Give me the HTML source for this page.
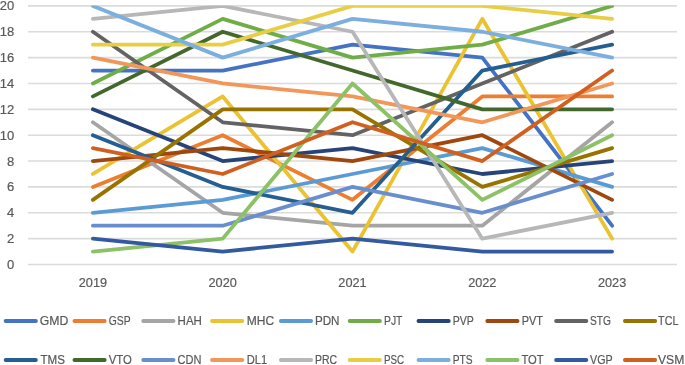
<!DOCTYPE html>
<html><head><meta charset="utf-8"><style>
html,body{margin:0;padding:0;background:#fff;width:685px;height:365px;overflow:hidden}
svg{display:block}
text{font-family:"Liberation Sans",sans-serif;fill:#595959;stroke:#595959;stroke-width:0.2px}
svg{will-change:transform}
</style></head><body>
<svg width="685" height="365" viewBox="0 0 685 365">
<defs><clipPath id="pa"><rect x="0" y="5.4" width="685" height="265"/></clipPath></defs>
<rect width="685" height="365" fill="#fff"/>
<g stroke="#DADCDA" stroke-width="1.6">
<line x1="28.0" y1="264.50" x2="677.0" y2="264.50"/>
<line x1="28.0" y1="238.64" x2="677.0" y2="238.64"/>
<line x1="28.0" y1="212.78" x2="677.0" y2="212.78"/>
<line x1="28.0" y1="186.92" x2="677.0" y2="186.92"/>
<line x1="28.0" y1="161.06" x2="677.0" y2="161.06"/>
<line x1="28.0" y1="135.20" x2="677.0" y2="135.20"/>
<line x1="28.0" y1="109.34" x2="677.0" y2="109.34"/>
<line x1="28.0" y1="83.48" x2="677.0" y2="83.48"/>
<line x1="28.0" y1="57.62" x2="677.0" y2="57.62"/>
<line x1="28.0" y1="31.76" x2="677.0" y2="31.76"/>
<line x1="28.0" y1="5.90" x2="677.0" y2="5.90"/>
</g>
<g class="t">
<text x="14.2" y="269.00" font-size="13.0" text-anchor="end">0</text>
<text x="14.2" y="243.14" font-size="13.0" text-anchor="end">2</text>
<text x="14.2" y="217.28" font-size="13.0" text-anchor="end">4</text>
<text x="14.2" y="191.42" font-size="13.0" text-anchor="end">6</text>
<text x="14.2" y="165.56" font-size="13.0" text-anchor="end">8</text>
<text x="14.2" y="139.70" font-size="13.0" text-anchor="end">10</text>
<text x="14.2" y="113.84" font-size="13.0" text-anchor="end">12</text>
<text x="14.2" y="87.98" font-size="13.0" text-anchor="end">14</text>
<text x="14.2" y="62.12" font-size="13.0" text-anchor="end">16</text>
<text x="14.2" y="36.26" font-size="13.0" text-anchor="end">18</text>
<text x="14.2" y="10.40" font-size="13.0" text-anchor="end">20</text>
<text x="92.90" y="287.2" font-size="13.0" text-anchor="middle" textLength="28.3" lengthAdjust="spacingAndGlyphs">2019</text>
<text x="222.70" y="287.2" font-size="13.0" text-anchor="middle" textLength="28.3" lengthAdjust="spacingAndGlyphs">2020</text>
<text x="352.50" y="287.2" font-size="13.0" text-anchor="middle" textLength="28.3" lengthAdjust="spacingAndGlyphs">2021</text>
<text x="482.30" y="287.2" font-size="13.0" text-anchor="middle" textLength="28.3" lengthAdjust="spacingAndGlyphs">2022</text>
<text x="612.10" y="287.2" font-size="13.0" text-anchor="middle" textLength="28.3" lengthAdjust="spacingAndGlyphs">2023</text>
</g>
<g clip-path="url(#pa)" fill="none" stroke-width="3.8" stroke-linecap="round" stroke-linejoin="round">
<polyline points="92.90,70.55 222.70,70.55 352.50,44.69 482.30,57.62 612.10,225.71" stroke="#4472C4"/>
<polyline points="92.90,186.92 222.70,135.20 352.50,199.85 482.30,96.41 612.10,96.41" stroke="#ED7D31"/>
<polyline points="92.90,122.27 222.70,212.78 352.50,225.71 482.30,225.71 612.10,122.27" stroke="#A5A5A5"/>
<polyline points="92.90,173.99 222.70,96.41 352.50,251.57 482.30,18.83 612.10,238.64" stroke="#EBC232"/>
<polyline points="92.90,212.78 222.70,199.85 352.50,173.99 482.30,148.13 612.10,186.92" stroke="#5B9BD5"/>
<polyline points="92.90,83.48 222.70,18.83 352.50,57.62 482.30,44.69 612.10,5.90" stroke="#70AD47"/>
<polyline points="92.90,109.34 222.70,161.06 352.50,148.13 482.30,173.99 612.10,161.06" stroke="#264478"/>
<polyline points="92.90,161.06 222.70,148.13 352.50,161.06 482.30,135.20 612.10,199.85" stroke="#9E480E"/>
<polyline points="92.90,31.76 222.70,122.27 352.50,135.20 482.30,83.48 612.10,31.76" stroke="#636363"/>
<polyline points="92.90,199.85 222.70,109.34 352.50,109.34 482.30,186.92 612.10,148.13" stroke="#997300"/>
<polyline points="92.90,135.20 222.70,186.92 352.50,212.78 482.30,70.55 612.10,44.69" stroke="#255E91"/>
<polyline points="92.90,96.41 222.70,31.76 352.50,70.55 482.30,109.34 612.10,109.34" stroke="#43682B"/>
<polyline points="92.90,225.71 222.70,225.71 352.50,186.92 482.30,212.78 612.10,173.99" stroke="#698ED0"/>
<polyline points="92.90,57.62 222.70,83.48 352.50,96.41 482.30,122.27 612.10,83.48" stroke="#F1975A"/>
<polyline points="92.90,18.83 222.70,5.90 352.50,31.76 482.30,238.64 612.10,212.78" stroke="#B7B7B7"/>
<polyline points="92.90,44.69 222.70,44.69 352.50,5.90 482.30,5.90 612.10,18.83" stroke="#E8CE44"/>
<polyline points="92.90,5.90 222.70,57.62 352.50,18.83 482.30,31.76 612.10,57.62" stroke="#7CAFDD"/>
<polyline points="92.90,251.57 222.70,238.64 352.50,83.48 482.30,199.85 612.10,135.20" stroke="#8CC168"/>
<polyline points="92.90,238.64 222.70,251.57 352.50,238.64 482.30,251.57 612.10,251.57" stroke="#335AA1"/>
<polyline points="92.90,148.13 222.70,173.99 352.50,122.27 482.30,161.06 612.10,70.55" stroke="#D06020"/>
</g>
<g stroke-width="3.8" stroke-linecap="round">
<line x1="5.60" y1="321.0" x2="35.90" y2="321.0" stroke="#4472C4"/>
<line x1="74.41" y1="321.0" x2="104.71" y2="321.0" stroke="#ED7D31"/>
<line x1="143.22" y1="321.0" x2="173.52" y2="321.0" stroke="#A5A5A5"/>
<line x1="212.03" y1="321.0" x2="242.33" y2="321.0" stroke="#EBC232"/>
<line x1="280.84" y1="321.0" x2="311.14" y2="321.0" stroke="#5B9BD5"/>
<line x1="349.65" y1="321.0" x2="379.95" y2="321.0" stroke="#70AD47"/>
<line x1="418.46" y1="321.0" x2="448.76" y2="321.0" stroke="#264478"/>
<line x1="487.27" y1="321.0" x2="517.57" y2="321.0" stroke="#9E480E"/>
<line x1="556.08" y1="321.0" x2="586.38" y2="321.0" stroke="#636363"/>
<line x1="624.89" y1="321.0" x2="655.19" y2="321.0" stroke="#997300"/>
<line x1="5.60" y1="360.0" x2="35.90" y2="360.0" stroke="#255E91"/>
<line x1="74.41" y1="360.0" x2="104.71" y2="360.0" stroke="#43682B"/>
<line x1="143.22" y1="360.0" x2="173.52" y2="360.0" stroke="#698ED0"/>
<line x1="212.03" y1="360.0" x2="242.33" y2="360.0" stroke="#F1975A"/>
<line x1="280.84" y1="360.0" x2="311.14" y2="360.0" stroke="#B7B7B7"/>
<line x1="349.65" y1="360.0" x2="379.95" y2="360.0" stroke="#E8CE44"/>
<line x1="418.46" y1="360.0" x2="448.76" y2="360.0" stroke="#7CAFDD"/>
<line x1="487.27" y1="360.0" x2="517.57" y2="360.0" stroke="#8CC168"/>
<line x1="556.08" y1="360.0" x2="586.38" y2="360.0" stroke="#335AA1"/>
<line x1="624.89" y1="360.0" x2="655.19" y2="360.0" stroke="#D06020"/>
</g>
<g class="t">
<text x="39.70" y="325.40" font-size="12.4" textLength="28.60" lengthAdjust="spacingAndGlyphs">GMD</text>
<text x="108.80" y="325.40" font-size="12.4" textLength="21.80" lengthAdjust="spacingAndGlyphs">GSP</text>
<text x="177.60" y="325.40" font-size="12.4" textLength="24.30" lengthAdjust="spacingAndGlyphs">HAH</text>
<text x="246.70" y="325.40" font-size="12.4" textLength="27.40" lengthAdjust="spacingAndGlyphs">MHC</text>
<text x="314.90" y="325.40" font-size="12.4" textLength="24.60" lengthAdjust="spacingAndGlyphs">PDN</text>
<text x="384.00" y="325.40" font-size="12.4" textLength="18.40" lengthAdjust="spacingAndGlyphs">PJT</text>
<text x="452.80" y="325.40" font-size="12.4" textLength="21.10" lengthAdjust="spacingAndGlyphs">PVP</text>
<text x="521.70" y="325.40" font-size="12.4" textLength="21.30" lengthAdjust="spacingAndGlyphs">PVT</text>
<text x="589.90" y="325.40" font-size="12.4" textLength="21.00" lengthAdjust="spacingAndGlyphs">STG</text>
<text x="658.10" y="325.40" font-size="12.4" textLength="20.30" lengthAdjust="spacingAndGlyphs">TCL</text>
<text x="40.50" y="364.40" font-size="12.4" textLength="24.50" lengthAdjust="spacingAndGlyphs">TMS</text>
<text x="108.80" y="364.40" font-size="12.4" textLength="23.10" lengthAdjust="spacingAndGlyphs">VTO</text>
<text x="177.60" y="364.40" font-size="12.4" textLength="23.90" lengthAdjust="spacingAndGlyphs">CDN</text>
<text x="246.70" y="364.40" font-size="12.4" textLength="20.40" lengthAdjust="spacingAndGlyphs">DL1</text>
<text x="314.90" y="364.40" font-size="12.4" textLength="22.20" lengthAdjust="spacingAndGlyphs">PRC</text>
<text x="384.00" y="364.40" font-size="12.4" textLength="20.20" lengthAdjust="spacingAndGlyphs">PSC</text>
<text x="452.80" y="364.40" font-size="12.4" textLength="19.90" lengthAdjust="spacingAndGlyphs">PTS</text>
<text x="521.40" y="364.40" font-size="12.4" textLength="22.20" lengthAdjust="spacingAndGlyphs">TOT</text>
<text x="590.10" y="364.40" font-size="12.4" textLength="22.60" lengthAdjust="spacingAndGlyphs">VGP</text>
<text x="658.00" y="364.40" font-size="12.4" textLength="26.30" lengthAdjust="spacingAndGlyphs">VSM</text>
</g>
</svg>
</body></html>
